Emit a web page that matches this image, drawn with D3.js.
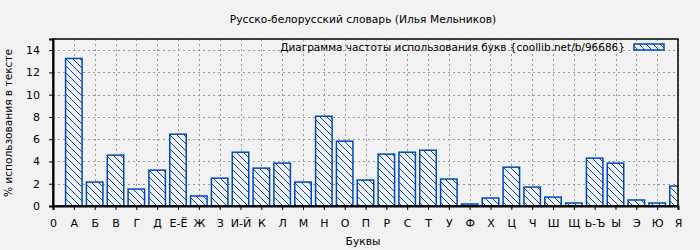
<!DOCTYPE html>
<html>
<head>
<meta charset="utf-8">
<script src="https://cdn.jsdelivr.net/npm/d3@7"></script>
<style>
  body { margin: 0; background: #f2f2f2; }
  svg { display: block; font-family: "DejaVu Sans", sans-serif; }
</style>
</head>
<body>
<svg></svg>
<script>
(function (d3) {
  'use strict';

  var letters = ["А","Б","В","Г","Д","Е-Ё","Ж","З","И-Й","К","Л","М","Н","О","П","Р","С","Т","У","Ф","Х","Ц","Ч","Ш","Щ","Ь-Ъ","Ы","Э","Ю","Я"];
  var freq = [13.25,2.15,4.57,1.52,3.22,6.45,0.9,2.5,4.83,3.4,3.85,2.15,8.06,5.82,2.33,4.66,4.83,5.01,2.42,0.18,0.72,3.49,1.7,0.8,0.27,4.3,3.85,0.54,0.27,1.79];
  var tickLabels = ["0"].concat(letters);
  var yTicks = [0,2,4,6,8,10,12,14];

  var width = 700, height = 250,
      left = 53, right = 678, top = 39, bottom = 206,
      blue = "#0047bb";

  var svg = d3.select("svg").attr("width", width).attr("height", height);

  var x = d3.scaleLinear().domain([0, 30]).range([left, right]),
      y = d3.scaleLinear().domain([0, 15]).range([bottom, top]);

  var defs = svg.append("defs");
  var pat = defs.append("pattern")
    .attr("id", "hatch")
    .attr("patternUnits", "userSpaceOnUse")
    .attr("width", 7).attr("height", 7);
  pat.append("rect").attr("width", 7).attr("height", 7).attr("fill", "#f2f2f2");
  pat.append("path")
    .attr("d", "M0,0L7,7M-1,6L1,8M6,-1L8,1")
    .attr("stroke", blue).attr("stroke-width", 1);

  defs.append("clipPath").attr("id", "plot")
    .append("rect").attr("x", left).attr("y", top)
    .attr("width", right - left).attr("height", bottom - top);

  // grid
  var grid = svg.append("g").attr("stroke", "#999").attr("stroke-dasharray", "2,3");
  grid.selectAll(".gx").data(d3.range(1, 31)).enter().append("line")
    .attr("x1", d => Math.round(x(d)) + 0.5).attr("x2", d => Math.round(x(d)) + 0.5)
    .attr("y1", top).attr("y2", bottom);
  grid.selectAll(".gy").data(yTicks.slice(1)).enter().append("line")
    .attr("x1", left).attr("x2", right)
    .attr("y1", d => Math.round(y(d)) + 0.5).attr("y2", d => Math.round(y(d)) + 0.5);

  // bars
  var bw = 16.5;
  svg.append("g").attr("clip-path", "url(#plot)")
    .selectAll("rect").data(freq).enter().append("rect")
    .attr("x", (d, i) => x(i + 1) - bw / 2)
    .attr("y", d => y(d))
    .attr("width", bw)
    .attr("height", d => bottom - y(d))
    .attr("fill", "url(#hatch)")
    .attr("stroke", blue).attr("stroke-width", 1.5);

  // frame
  svg.append("rect").attr("x", left).attr("y", top)
    .attr("width", right - left).attr("height", bottom - top)
    .attr("fill", "none").attr("stroke", "#000").attr("stroke-width", 1.5);

  // axes
  var yAxis = svg.append("g").attr("transform", "translate(" + left + ",0)")
    .call(d3.axisLeft(y).tickValues(yTicks).tickSize(4).tickPadding(9));
  var xAxis = svg.append("g").attr("transform", "translate(0," + bottom + ")")
    .call(d3.axisBottom(x).tickValues(d3.range(0, 31)).tickSize(4).tickPadding(9)
      .tickFormat((d, i) => tickLabels[i]));
  [xAxis, yAxis].forEach(function (a) {
    a.select(".domain").attr("stroke", "#000").attr("stroke-width", 2);
    a.selectAll(".tick line").attr("stroke", "#000");
    a.selectAll("text").attr("font-family", "DejaVu Sans").attr("font-size", 11).attr("fill", "#000");
  });

  // titles
  svg.append("text").attr("x", 363).attr("y", 23).attr("text-anchor", "middle")
    .attr("font-size", 10.7).text("Русско-белорусский словарь (Илья Мельников)");
  svg.append("text").attr("x", 363).attr("y", 245).attr("text-anchor", "middle")
    .attr("font-size", 10.7).text("Буквы");
  svg.append("text").attr("transform", "translate(12,123) rotate(-90)")
    .attr("text-anchor", "middle").attr("font-size", 10.6)
    .text("% использования в тексте");

  // legend
  svg.append("text").attr("x", 625).attr("y", 51).attr("text-anchor", "end")
    .attr("font-size", 10.5).text("Диаграмма частоты использования букв {coollib.net/b/96686}");
  svg.append("rect").attr("x", 634).attr("y", 44).attr("width", 30).attr("height", 6)
    .attr("fill", "url(#hatch)").attr("stroke", blue).attr("stroke-width", 1.5);
}(d3));
</script>
</body>
</html>
